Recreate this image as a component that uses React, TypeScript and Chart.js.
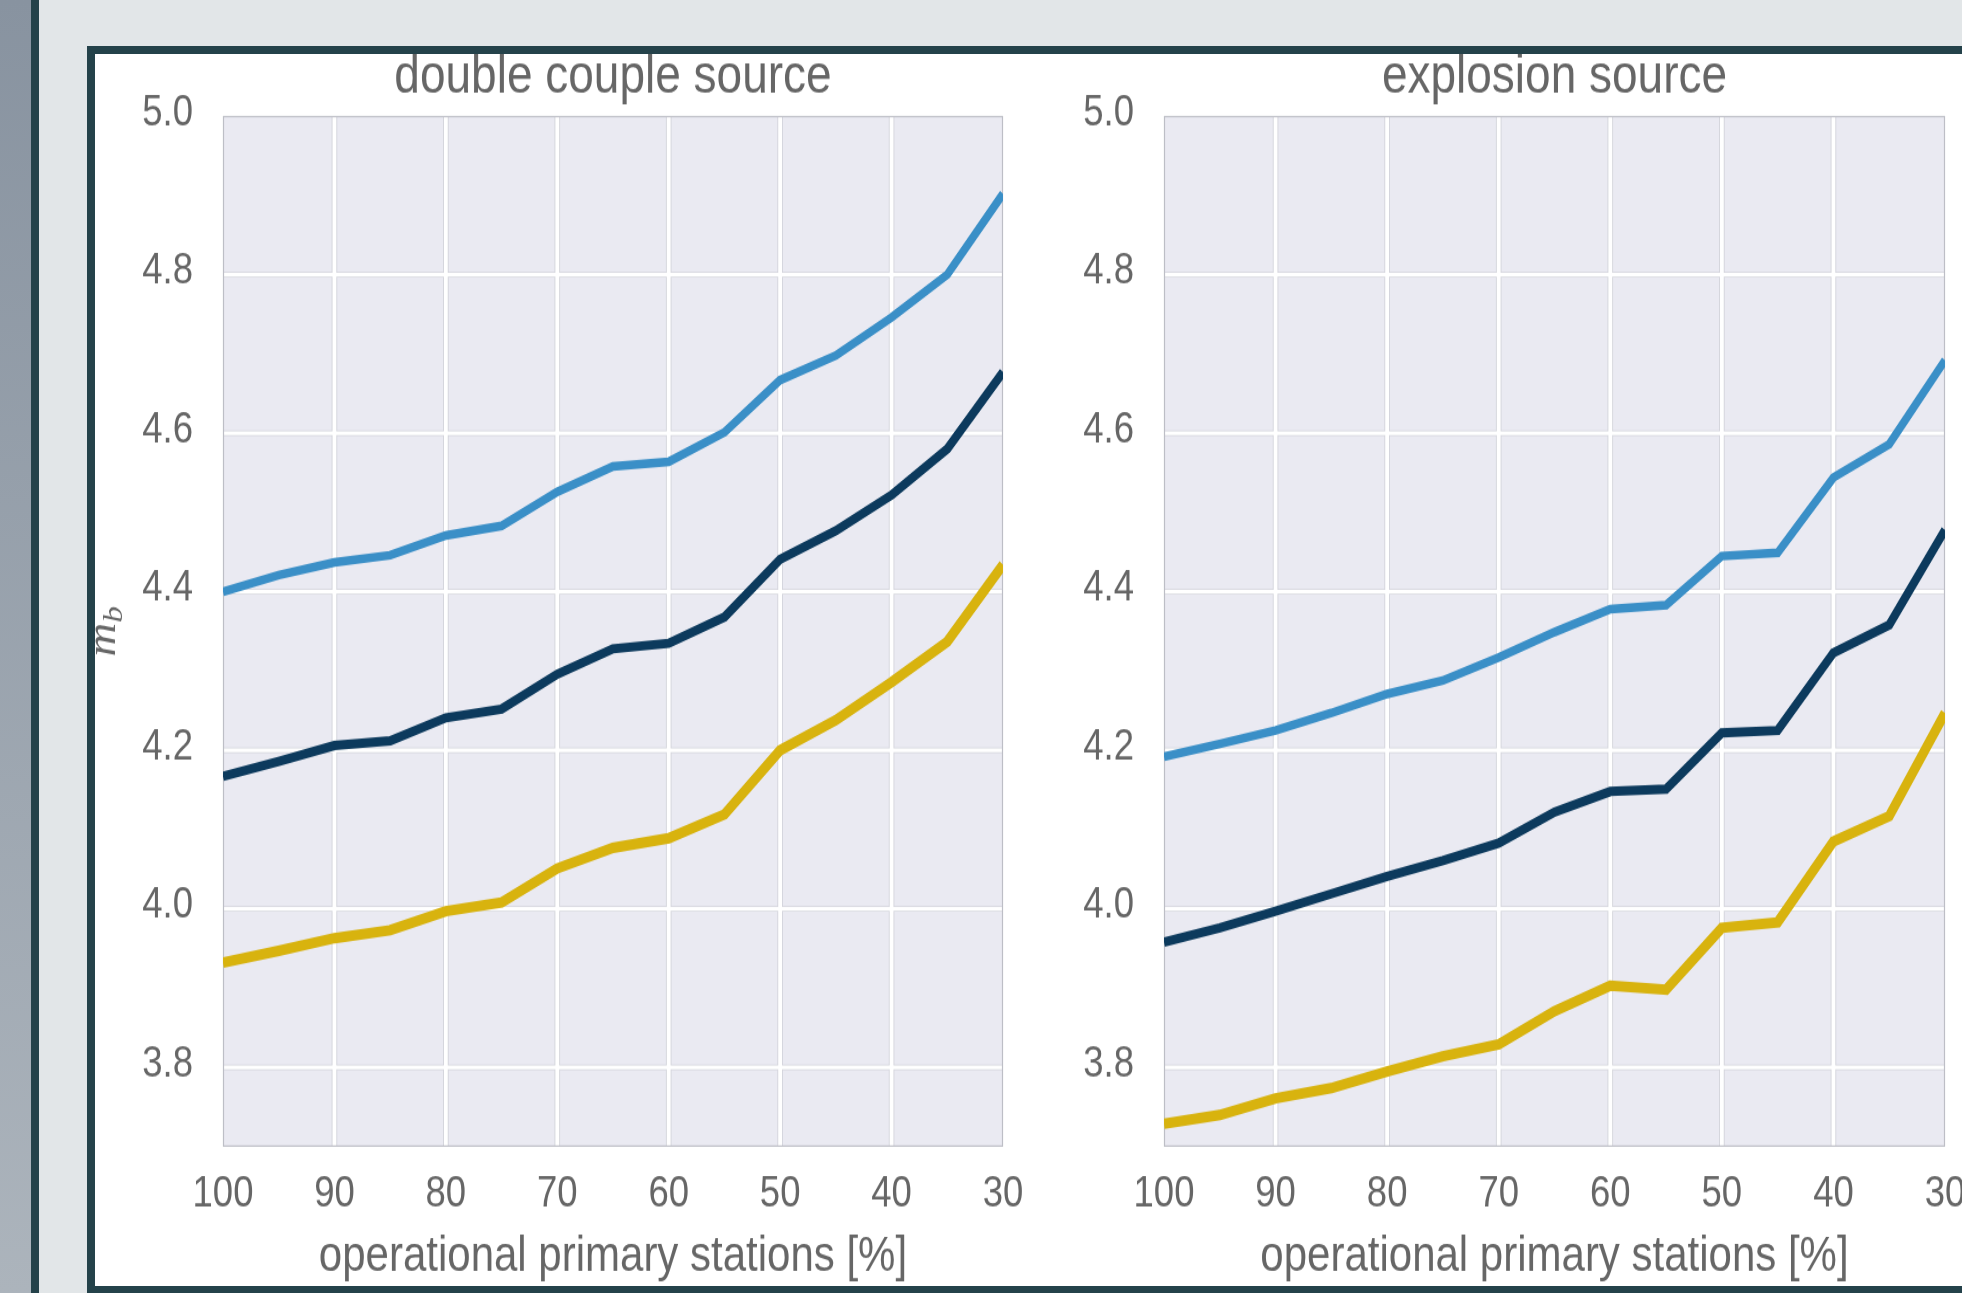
import { useEffect, useRef } from "react";
import { Chart, registerables } from "chart.js";

Chart.register(...registerables);

// Share of operational primary stations [%] at which each magnitude was computed
const stations = [100, 95, 90, 85, 80, 75, 70, 65, 60, 55, 50, 45, 40, 35, 30];
const xTickValues = [100, 90, 80, 70, 60, 50, 40, 30];
const yTickValues = [3.8, 4.0, 4.2, 4.4, 4.6, 4.8, 5.0];

// Double couple source: upper, median and lower curves of m_b
const dcUpper = [4.400, 4.421, 4.437, 4.446, 4.471, 4.483, 4.526, 4.558, 4.564, 4.601, 4.667, 4.698, 4.746, 4.800, 4.902];
const dcMedian = [4.167, 4.186, 4.206, 4.212, 4.241, 4.252, 4.296, 4.328, 4.335, 4.368, 4.441, 4.477, 4.522, 4.580, 4.677];
const dcLower = [3.932, 3.947, 3.963, 3.973, 3.997, 4.008, 4.051, 4.077, 4.089, 4.119, 4.200, 4.238, 4.286, 4.337, 4.434];

// Explosion source: upper, median and lower curves of m_b
const exUpper = [4.192, 4.208, 4.225, 4.247, 4.271, 4.288, 4.317, 4.349, 4.378, 4.383, 4.445, 4.449, 4.544, 4.586, 4.692];
const exMedian = [3.958, 3.976, 3.997, 4.019, 4.041, 4.061, 4.083, 4.122, 4.148, 4.151, 4.222, 4.225, 4.323, 4.358, 4.478];
const exLower = [3.729, 3.740, 3.761, 3.774, 3.795, 3.814, 3.829, 3.871, 3.903, 3.898, 3.976, 3.983, 4.085, 4.117, 4.247];

const panelTitles = ["double couple source", "explosion source"];
const xAxisLabel = "operational primary stations [%]";
const yAxisSymbol = "m";
const yAxisSubscript = "b";

const STRETCH = 1.17; // the figure is shown slightly taller than it was drawn
const CANVAS_H = 1053;
const FONT = '"Liberation Sans", Arial, Helvetica, sans-serif';
const TEXT = "#666666";
const COLORS = { upper: "#3a8fc7", median: "#0c3a5d", lower: "#d8b30e" };

const backdrop = {
  id: "backdrop",
  beforeDatasetsDraw(chart: any) {
    const { ctx, chartArea: a, scales } = chart;
    const xs = scales.x;
    const ys = scales.y;
    ctx.save();
    ctx.fillStyle = "#eaeaf2";
    ctx.fillRect(a.left, a.top, a.right - a.left, a.bottom - a.top);
    const vx = xTickValues.map((v) => xs.getPixelForValue(v)).filter((p: number) => p > a.left + 1 && p < a.right - 1);
    const hy = yTickValues.map((v) => ys.getPixelForValue(v)).filter((p: number) => p > a.top + 1 && p < a.bottom - 1);
    const stroke = (w: number, color: string) => {
      ctx.strokeStyle = color;
      ctx.lineWidth = w;
      ctx.beginPath();
      vx.forEach((p: number) => {
        ctx.moveTo(p, a.top);
        ctx.lineTo(p, a.bottom);
      });
      ctx.stroke();
      ctx.lineWidth = w / STRETCH;
      ctx.beginPath();
      hy.forEach((p: number) => {
        ctx.moveTo(a.left, p);
        ctx.lineTo(a.right, p);
      });
      ctx.stroke();
    };
    stroke(5.6, "#d3d4db");
    stroke(3.8, "#ffffff");
    ctx.lineWidth = 1.2;
    ctx.strokeStyle = "#bdbec6";
    ctx.strokeRect(a.left + 0.5, a.top + 0.5, a.right - a.left - 1, a.bottom - a.top - 1);
    ctx.restore();
  },
};

const panelText = {
  id: "panelText",
  afterDraw(chart: any, _args: any, opts: any) {
    const { ctx, chartArea: a } = chart;
    ctx.save();
    ctx.fillStyle = TEXT;
    ctx.font = `46px ${FONT}`;
    ctx.textAlign = "center";
    ctx.textBaseline = "alphabetic";
    ctx.fillText(opts.title, (a.left + a.right) / 2, 32.5);
    if (opts.showSymbol) {
      ctx.translate(opts.symbolX, (a.top + a.bottom) / 2);
      ctx.rotate(-Math.PI / 2);
      const mainFont = 'italic 40px "Liberation Serif", "DejaVu Serif", serif';
      const subFont = 'italic 28px "Liberation Serif", "DejaVu Serif", serif';
      ctx.font = mainFont;
      const wm = ctx.measureText(yAxisSymbol).width;
      ctx.font = subFont;
      const wb = ctx.measureText(yAxisSubscript).width;
      const x0 = -(wm + wb) / 2;
      ctx.textAlign = "left";
      ctx.font = mainFont;
      ctx.fillText(yAxisSymbol, x0, 0);
      ctx.font = subFont;
      ctx.fillText(yAxisSubscript, x0 + wm, 7);
    }
    ctx.restore();
  },
};

type PanelProps = {
  left: number;
  width: number;
  axisWidth: number;
  rightPad: number;
  title: string;
  upper: number[];
  median: number[];
  lower: number[];
  showSymbol: boolean;
};

function series(values: number[], color: string, width: number) {
  return {
    data: values.map((v, i) => ({ x: stations[i], y: v })),
    borderColor: color,
    backgroundColor: color,
    borderWidth: width,
    pointRadius: 0,
    tension: 0,
    fill: false,
  };
}

function Panel({ left, width, axisWidth, rightPad, title, upper, median, lower, showSymbol }: PanelProps) {
  const ref = useRef<HTMLCanvasElement>(null);

  useEffect(() => {
    const chart = new Chart(ref.current as HTMLCanvasElement, {
      type: "line",
      data: {
        datasets: [
          series(upper, COLORS.upper, 7.5),
          series(median, COLORS.median, 8),
          series(lower, COLORS.lower, 9),
        ],
      },
      options: {
        animation: false,
        responsive: false,
        devicePixelRatio: 1,
        events: [],
        layout: { padding: { top: 53, right: rightPad, bottom: 0, left: 0 } },
        plugins: {
          legend: { display: false },
          tooltip: { enabled: false },
          title: { display: false },
          panelText: { title, showSymbol, symbolX: 28 },
        } as any,
        scales: {
          x: {
            type: "linear",
            reverse: true,
            min: 30,
            max: 100,
            afterBuildTicks: (s: any) => {
              s.ticks = xTickValues.map((v) => ({ value: v }));
            },
            afterFit: (s: any) => {
              s.height = 119.1;
            },
            grid: { display: false, drawTicks: false },
            border: { display: false },
            ticks: {
              padding: 23,
              autoSkip: false,
              maxRotation: 0,
              color: TEXT,
              font: { family: FONT, size: 36.5, lineHeight: 1 },
              callback: (v: any) => String(v),
            },
            title: {
              display: true,
              text: xAxisLabel,
              color: TEXT,
              font: { family: FONT, size: 42, lineHeight: 1 },
              padding: { top: 0, bottom: 3.5 },
            },
          },
          y: {
            type: "linear",
            min: 3.7,
            max: 5.0,
            afterBuildTicks: (s: any) => {
              s.ticks = yTickValues.map((v) => ({ value: v }));
            },
            afterFit: (s: any) => {
              s.width = axisWidth;
            },
            grid: { display: false, drawTicks: false },
            border: { display: false },
            ticks: {
              padding: 30,
              labelOffset: -2.5,
              color: TEXT,
              font: { family: FONT, size: 36.5, lineHeight: 1 },
              callback: (v: any) => Number(v).toFixed(1),
            },
          },
        },
      } as any,
      plugins: [backdrop, panelText],
    });
    return () => chart.destroy();
  }, []);

  return (
    <div
      style={{
        position: "absolute",
        left,
        top: 54,
        width,
        height: CANVAS_H,
        transform: `scaleY(${STRETCH})`,
        transformOrigin: "0 0",
      }}
    >
      <canvas ref={ref} width={width} height={CANVAS_H} />
    </div>
  );
}

export default function App() {
  return (
    <div
      style={{
        position: "fixed",
        left: 0,
        top: 0,
        width: 1962,
        height: 1293,
        overflow: "hidden",
        background: "#e2e6e8",
      }}
    >
      <div
        style={{
          position: "absolute",
          left: 0,
          top: 0,
          width: 31,
          height: 1293,
          background: "linear-gradient(#8893a0, #acb4bc)",
        }}
      />
      <div style={{ position: "absolute", left: 31, top: 0, width: 8, height: 1293, background: "#24424a" }} />
      <div style={{ position: "absolute", left: 87, top: 46, width: 2000, height: 1248, background: "#ffffff" }} />
      <Panel
        left={87}
        width={973}
        axisWidth={136}
        rightPad={57}
        title={panelTitles[0]}
        upper={dcUpper}
        median={dcMedian}
        lower={dcLower}
        showSymbol={true}
      />
      <Panel
        left={1060}
        width={975}
        axisWidth={104}
        rightPad={90}
        title={panelTitles[1]}
        upper={exUpper}
        median={exMedian}
        lower={exLower}
        showSymbol={false}
      />
      <div
        style={{
          position: "absolute",
          left: 87,
          top: 46,
          width: 2000,
          height: 1248,
          boxSizing: "border-box",
          border: "8px solid #24424a",
          pointerEvents: "none",
        }}
      />
    </div>
  );
}
